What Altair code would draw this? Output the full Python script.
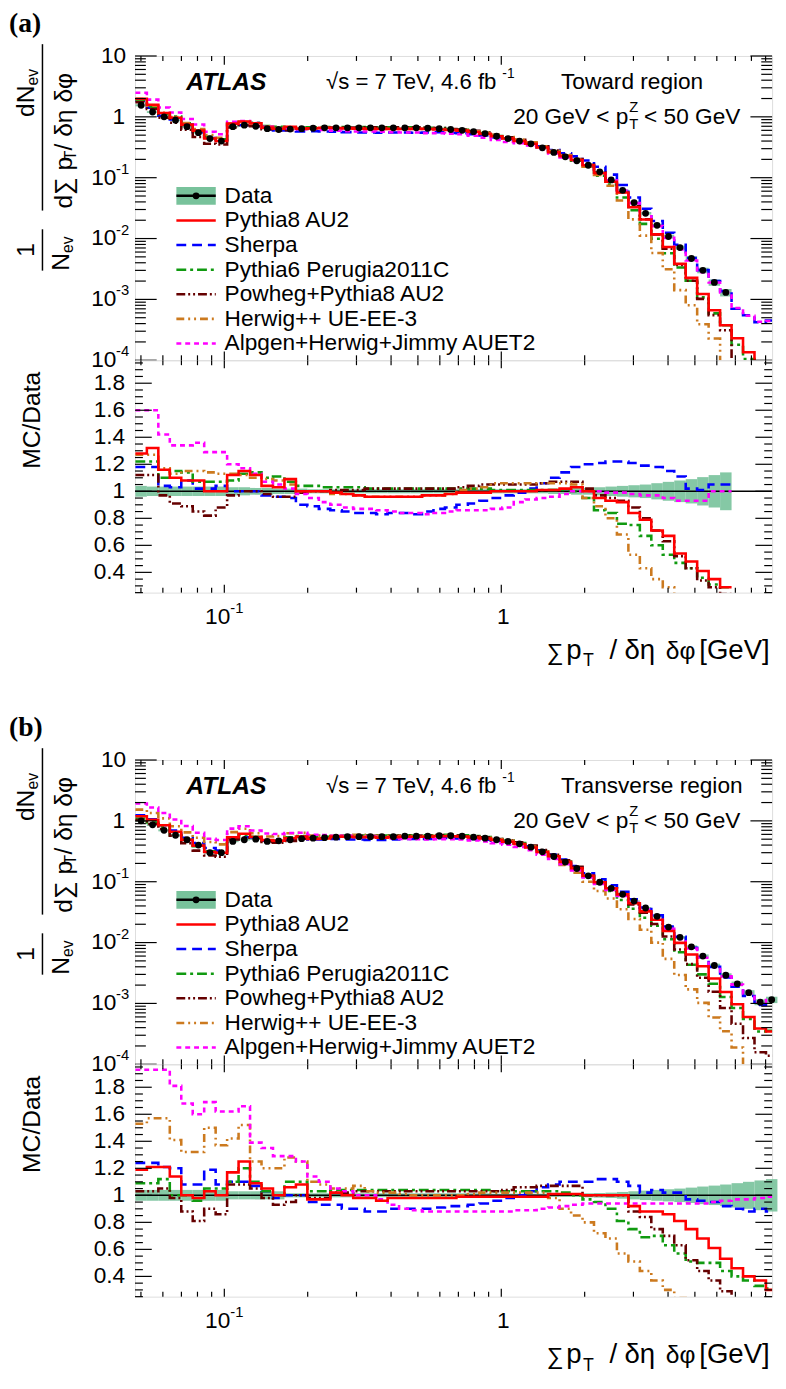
import altair as alt
import pandas as pd

FONT = "Liberation Sans"
W, HM, HR = 647, 309, 236
GAP = 170
XMIN, XMAX = 0.0476, 9.5

# histogram bin edges (56 bins, log-uniform)
EDGES = [0.04775, 0.052525, 0.057778, 0.063555, 0.069911, 0.076902, 0.084592, 0.093051,
         0.102356, 0.112592, 0.123851, 0.136236, 0.149860, 0.164846, 0.181331, 0.199464,
         0.219410, 0.241351, 0.265486, 0.292035, 0.321238, 0.353362, 0.388698, 0.427568,
         0.470325, 0.517358, 0.569093, 0.626003, 0.688603, 0.757463, 0.833209, 0.916530,
         1.008183, 1.109002, 1.219902, 1.341892, 1.476081, 1.623689, 1.786058, 1.964664,
         2.161131, 2.377244, 2.614968, 2.876465, 3.164111, 3.480523, 3.828575, 4.211432,
         4.632576, 5.095833, 5.605416, 6.165958, 6.782554, 7.460809, 8.206890, 9.027579,
         9.930337]

MODELS = ["Pythia8 AU2", "Sherpa", "Pythia6 Perugia2011C", "Powheg+Pythia8 AU2",
          "Herwig++ UE-EE-3", "Alpgen+Herwig+Jimmy AUET2"]
COLORS = ["#ff0000", "#0000ff", "#109a10", "#650000", "#cc7a1f", "#ff00ff"]
DASHES = [None, [10, 6], [10, 4, 3, 4], [9, 3, 2, 3, 2, 3], [8, 4, 2, 4, 2, 4], [5, 4]]

# ---------------- panel (a): toward region ----------------
DATA_A = [1.55, 1.2, 1.0, 0.88, 0.69, 0.55, 0.44, 0.40, 0.69, 0.73, 0.70, 0.64, 0.62, 0.63,
          0.64, 0.65, 0.66, 0.66, 0.66, 0.66, 0.66, 0.66, 0.66, 0.66, 0.66, 0.65, 0.64, 0.62,
          0.60, 0.57, 0.53, 0.48, 0.44, 0.40, 0.36, 0.31, 0.26, 0.22, 0.19, 0.16, 0.125,
          0.092, 0.062, 0.039, 0.026, 0.0165, 0.0108, 0.0071, 0.0047, 0.0030, 0.0019, 0.0013]
ERR_A = [0.04, 0.035, 0.035, 0.035, 0.035, 0.035, 0.035, 0.035, 0.03, 0.03, 0.025, 0.025,
         0.02, 0.02, 0.02, 0.015, 0.015, 0.015, 0.015, 0.015, 0.015, 0.015, 0.015, 0.015,
         0.015, 0.015, 0.015, 0.015, 0.015, 0.015, 0.015, 0.015, 0.015, 0.015, 0.015, 0.015,
         0.02, 0.02, 0.025, 0.025, 0.03, 0.035, 0.04, 0.045, 0.05, 0.06, 0.07, 0.08, 0.09,
         0.105, 0.12, 0.14]
RATIO_A = {
    "Pythia8 AU2": [1.28, 1.32, 1.16, 1.10, 1.08, 1.08, 1.0, 1.0, 1.12, 1.15, 1.12, 1.04, 1.03,
                    1.09, 1.0, 1.0, 1.0, 0.99, 0.98, 0.97, 0.96, 0.96, 0.96, 0.96, 0.96, 0.97,
                    0.97, 0.98, 0.99, 0.99, 0.99, 1.0, 1.0, 1.0, 1.0, 1.01, 1.01, 1.02, 1.03,
                    1.0, 0.95, 0.93, 0.92, 0.84, 0.79, 0.71, 0.67, 0.54, 0.48, 0.41, 0.35, 0.29],
    "Sherpa": [1.18, 1.18, 1.04, 1.03, 1.08, 1.02, 1.02, 1.04, 1.0, 1.0, 1.0, 0.97, 0.96,
               0.95, 0.90, 0.89, 0.87, 0.86, 0.85, 0.84, 0.84, 0.83, 0.84, 0.84, 0.83, 0.85,
               0.87, 0.88, 0.90, 0.91, 0.93, 0.95, 0.97, 0.99, 1.02, 1.06, 1.10, 1.14, 1.18,
               1.20, 1.21, 1.22, 1.22, 1.21, 1.19, 1.18, 1.15, 1.11, 1.02, 1.01, 1.05, 1.05],
    "Pythia6 Perugia2011C": [1.22, 1.22, 1.10, 1.15, 1.14, 1.07, 1.07, 1.07, 1.08, 1.13, 1.14,
                             1.10, 1.11, 1.07, 1.04, 1.04, 1.03, 1.03, 1.03, 1.03, 1.02, 1.02,
                             1.02, 1.02, 1.02, 1.02, 1.02, 1.02, 1.02, 1.02, 1.02, 1.01, 1.01,
                             1.01, 1.01, 1.01, 1.01, 1.01, 1.0, 0.95, 0.86, 0.84, 0.76, 0.75,
                             0.67, 0.60, 0.53, 0.47, 0.43, 0.36, 0.31, 0.29],
    "Powheg+Pythia8 AU2": [1.12, 1.12, 0.97, 0.91, 0.89, 0.85, 0.82, 0.88, 0.97, 1.0, 1.0,
                           0.98, 0.96, 0.96, 0.99, 1.0, 1.0, 1.01, 1.01, 1.01, 1.02, 1.02,
                           1.02, 1.02, 1.02, 1.02, 1.02, 1.02, 1.03, 1.04, 1.05, 1.05, 1.05,
                           1.05, 1.05, 1.06, 1.07, 1.07, 1.07, 1.02, 0.97, 0.95, 0.93, 0.88,
                           0.80, 0.71, 0.63, 0.52, 0.43, 0.34, 0.29, 0.24],
    "Herwig++ UE-EE-3": [1.27, 1.27, 1.17, 1.13, 1.15, 1.15, 1.14, 1.13, 1.13, 1.12, 1.10,
                         1.09, 1.08, 1.05, 1.0, 1.0, 1.0, 0.98, 0.98, 0.97, 0.96, 0.96, 0.96,
                         0.96, 0.96, 0.97, 0.97, 0.98, 1.01, 1.02, 1.03, 1.06, 1.06, 1.06,
                         1.06, 1.06, 1.06, 1.06, 1.05, 0.95, 0.89, 0.80, 0.68, 0.53, 0.43,
                         0.35, 0.29, 0.20, 0.17, 0.13, 0.12, 0.01],
    "Alpgen+Herwig+Jimmy AUET2": [1.60, 1.60, 1.42, 1.34, 1.34, 1.36, 1.29, 1.29, 1.20, 1.17,
                                  1.13, 1.07, 1.05, 1.02, 0.98, 0.95, 0.92, 0.90, 0.88, 0.87,
                                  0.87, 0.86, 0.85, 0.84, 0.84, 0.83, 0.84, 0.85, 0.86, 0.86,
                                  0.86, 0.87, 0.88, 0.92, 0.94, 0.95, 0.96, 0.98, 1.0, 1.0,
                                  1.0, 0.99, 0.99, 0.98, 0.97, 0.97, 0.95, 0.93, 0.93, 0.93,
                                  1.0, 1.0],
}
# MC values in the main pad beyond the last data bin
TAIL_A = {
    "Pythia8 AU2": [2.3e-4, 1.35e-4, 5e-5, 5e-5],
    "Sherpa": [7e-4, 5.5e-4, 4.2e-4, 4.5e-4],
    "Pythia6 Perugia2011C": [1.8e-4, 1.05e-4, 5e-5, 5e-5],
    "Powheg+Pythia8 AU2": [9e-5, 5e-5, 5e-5, 5e-5],
    "Herwig++ UE-EE-3": [5e-5, 5e-5, 5e-5, 5e-5],
    "Alpgen+Herwig+Jimmy AUET2": [7.2e-4, 5.4e-4, 4.3e-4, 4.4e-4],
}

# ---------------- panel (b): transverse region ----------------
DATA_B = [1.0, 0.86, 0.70, 0.58, 0.49, 0.40, 0.30, 0.30, 0.46, 0.49, 0.50, 0.46, 0.47, 0.49,
          0.51, 0.52, 0.53, 0.54, 0.55, 0.55, 0.55, 0.55, 0.55, 0.56, 0.56, 0.56, 0.57, 0.57,
          0.56, 0.54, 0.52, 0.49, 0.46, 0.42, 0.37, 0.31, 0.26, 0.21, 0.165, 0.125, 0.098,
          0.078, 0.062, 0.048, 0.037, 0.027, 0.018, 0.0122, 0.0085, 0.0060, 0.0042, 0.0029,
          0.0021, 0.0015, 0.00105, 0.00115]
ERR_B = [0.04, 0.04, 0.04, 0.04, 0.04, 0.04, 0.04, 0.04, 0.03, 0.03, 0.03, 0.03, 0.03, 0.015,
         0.015, 0.015, 0.015, 0.015, 0.015, 0.015, 0.015, 0.015, 0.015, 0.015, 0.015, 0.015,
         0.015, 0.015, 0.015, 0.015, 0.015, 0.012, 0.012, 0.012, 0.012, 0.012, 0.012, 0.012,
         0.012, 0.015, 0.017, 0.02, 0.025, 0.03, 0.035, 0.04, 0.045, 0.05, 0.057, 0.065, 0.072,
         0.08, 0.09, 0.1, 0.11, 0.12]
RATIO_B = {
    "Pythia8 AU2": [1.19, 1.21, 1.21, 1.14, 1.0, 0.98, 1.03, 1.0, 1.17, 1.25, 1.09, 1.05, 1.0,
                    1.06, 1.08, 0.97, 0.97, 1.02, 1.0, 0.98, 0.98, 0.96, 0.98, 0.98, 0.98, 0.98,
                    0.98, 0.98, 0.99, 0.99, 0.99, 0.99, 0.99, 0.99, 0.99, 0.99, 1.01, 1.01,
                    1.01, 1.0, 1.0, 1.0, 1.0, 0.92, 0.88, 0.88, 0.86, 0.81, 0.75, 0.68, 0.61,
                    0.53, 0.46, 0.40, 0.37, 0.30],
    "Sherpa": [1.24, 1.24, 1.21, 1.20, 1.08, 1.08, 1.19, 1.08, 1.10, 1.10, 1.07, 1.03, 0.98,
               1.0, 1.0, 0.95, 0.93, 0.93, 0.90, 0.90, 0.88, 0.88, 0.90, 0.90, 0.90, 0.90, 0.91,
               0.92, 0.92, 0.93, 0.94, 0.96, 0.98, 1.0, 1.03, 1.06, 1.08, 1.10, 1.10, 1.10,
               1.12, 1.12, 1.10, 1.07, 1.02, 1.04, 1.02, 1.02, 0.97, 0.96, 0.95, 0.92, 0.90,
               0.88, 0.90, 0.88],
    "Pythia6 Perugia2011C": [1.09, 1.09, 1.12, 1.0, 1.0, 0.96, 1.05, 1.05, 1.10, 1.20, 1.10,
                             1.03, 1.0, 1.10, 1.10, 1.03, 1.03, 1.04, 1.04, 1.04, 1.04, 1.04,
                             1.04, 1.04, 1.04, 1.04, 1.04, 1.04, 1.04, 1.04, 1.04, 1.03, 1.03,
                             1.03, 1.03, 1.03, 1.03, 1.02, 1.0, 0.97, 0.95, 0.90, 0.81, 0.75,
                             0.69, 0.70, 0.63, 0.57, 0.51, 0.50, 0.50, 0.44, 0.40, 0.37, 0.33,
                             0.31],
    "Powheg+Pythia8 AU2": [1.03, 1.03, 1.05, 0.98, 0.88, 0.81, 0.90, 0.86, 1.08, 1.08, 1.05,
                           0.98, 0.93, 0.95, 1.0, 0.98, 0.98, 1.02, 1.02, 1.03, 1.03, 1.03,
                           1.03, 1.03, 1.03, 1.03, 1.03, 1.03, 1.03, 1.03, 1.03, 1.03, 1.04,
                           1.06, 1.06, 1.07, 1.07, 1.07, 1.07, 1.0, 1.0, 1.0, 1.0, 0.88, 0.84,
                           0.75, 0.70, 0.63, 0.52, 0.44, 0.37, 0.29, 0.22, 0.18, 0.15, 0.12],
    "Herwig++ UE-EE-3": [1.53, 1.57, 1.57, 1.41, 1.32, 1.32, 1.50, 1.37, 1.42, 1.52, 1.25,
                         1.20, 1.20, 1.28, 1.25, 1.10, 1.08, 1.05, 1.05, 1.07, 1.03, 1.02,
                         1.02, 1.01, 1.0, 1.0, 1.0, 1.0, 1.0, 1.01, 1.02, 1.02, 1.02, 1.02,
                         1.02, 1.02, 0.98, 0.90, 0.85, 0.80, 0.72, 0.68, 0.57, 0.51, 0.44,
                         0.37, 0.30, 0.24, 0.20, 0.17, 0.14, 0.12, 0.09, 0.05, 0.04, 0.03],
    "Alpgen+Herwig+Jimmy AUET2": [1.93, 1.93, 1.93, 1.81, 1.68, 1.60, 1.69, 1.62, 1.62, 1.66,
                                  1.39, 1.35, 1.29, 1.29, 1.25, 1.14, 1.10, 1.05, 1.03, 1.0,
                                  1.0, 0.97, 0.93, 0.90, 0.89, 0.88, 0.88, 0.88, 0.88, 0.88,
                                  0.88, 0.88, 0.88, 0.89, 0.89, 0.90, 0.91, 0.92, 0.93, 0.94,
                                  0.94, 0.94, 0.94, 0.94, 0.94, 0.94, 0.94, 0.94, 0.94, 0.94,
                                  0.95, 0.96, 0.97, 0.97, 0.98, 0.99],
}
TAIL_B = {m: [] for m in MODELS}

# tick values
X_MAJOR = [0.1, 1.0]
X_MINOR = [0.05, 0.06, 0.07, 0.08, 0.09, 0.2, 0.3, 0.4, 0.5, 0.6, 0.7, 0.8, 0.9,
           2, 3, 4, 5, 6, 7, 8, 9]
YM_MAJOR = [1e-4, 1e-3, 1e-2, 1e-1, 1, 10]
YM_MINOR = [k * 10.0 ** n for n in range(-4, 1) for k in range(2, 10)]
YR_MAJOR = [0.4, 0.6, 0.8, 1.0, 1.2, 1.4, 1.6, 1.8]
YR_MINOR = [0.25, 0.3, 0.35, 0.45, 0.5, 0.55, 0.65, 0.7, 0.75, 0.85, 0.9, 0.95, 1.05, 1.1,
            1.15, 1.25, 1.3, 1.35, 1.45, 1.5, 1.55, 1.65, 1.7, 1.75, 1.85, 1.9, 1.95]
YM_LABELS = pd.DataFrame({"v": [10, 1, 0.1, 0.01, 0.001, 0.0001],
                          "base": ["10", "1", "10", "10", "10", "10"],
                          "exp": ["", "", "-1", "-2", "-3", "-4"],
                          "bx": [-9, -10, -19, -19, -19, -19]})
YR_LABELS = pd.DataFrame({"v": YR_MAJOR, "t": ["0.4", "0.6", "0.8", "1", "1.2", "1.4", "1.6", "1.8"]})

GREEN = "#78c29b"

XS = alt.Scale(type="log", domain=[XMIN, XMAX], nice=False)
YSM = alt.Scale(type="log", domain=[1e-4, 10], nice=False)
YSR = alt.Scale(domain=[0.25, 1.97], nice=False, zero=False)


def txt(x, y, s, size=23, align="left", angle=0, weight="normal", style="normal",
        font=FONT, baseline="middle", color="black"):
    return alt.Chart(pd.DataFrame({"t": [s]})).mark_text(
        align=align, baseline=baseline, fontSize=size, angle=angle, fontWeight=weight,
        fontStyle=style, font=font, color=color
    ).encode(x=alt.value(x), y=alt.value(y), text="t:N")


def vrule(x, y1, y2, w=1.5):
    return alt.Chart(pd.DataFrame({"a": [0]})).mark_rule(color="black", strokeWidth=w).encode(
        x=alt.value(x), y=alt.value(y1), y2=alt.value(y2))


def steps(vals):
    rows = []
    for i, v in enumerate(vals):
        rows.append({"x": EDGES[i], "y": v, "o": 2 * i})
        rows.append({"x": EDGES[i + 1], "y": v, "o": 2 * i + 1})
    return pd.DataFrame(rows)


def line_layer(vals, k, ys):
    kw = dict(color=COLORS[k], strokeWidth=2.6, clip=True)
    if DASHES[k]:
        kw["strokeDash"] = DASHES[k]
    return alt.Chart(steps(vals)).mark_line(**kw).encode(
        x=alt.X("x:Q", scale=XS, axis=None),
        y=alt.Y("y:Q", scale=ys, axis=None),
        order="o:Q")


def tick_layers(h, ys, ymaj, ymin, lmaj, lmin, xmaj=9, xmin=5):
    out = []
    for vals, L in ((ymaj, lmaj), (ymin, lmin)):
        d = pd.DataFrame({"v": vals})
        base = alt.Chart(d).mark_rule(color="black", strokeWidth=1.2)
        out.append(base.encode(y=alt.Y("v:Q", scale=ys, axis=None), x=alt.value(0), x2=alt.value(L)))
        out.append(base.encode(y=alt.Y("v:Q", scale=ys, axis=None), x=alt.value(W - L), x2=alt.value(W)))
    for vals, L in ((X_MAJOR, xmaj), (X_MINOR, xmin)):
        d = pd.DataFrame({"v": vals})
        base = alt.Chart(d).mark_rule(color="black", strokeWidth=1.2)
        out.append(base.encode(x=alt.X("v:Q", scale=XS, axis=None), y=alt.value(0), y2=alt.value(L)))
        out.append(base.encode(x=alt.X("v:Q", scale=XS, axis=None), y=alt.value(h - L), y2=alt.value(h)))
    return out


def bin_frame(vals, errs):
    n = len(vals)
    lo = EDGES[:n]
    hi = EDGES[1:n + 1]
    ctr = [(a * b) ** 0.5 for a, b in zip(lo, hi)]
    return pd.DataFrame({"lo": lo, "hi": hi, "c": ctr, "v": vals, "e": errs,
                         "vlo": [v * (1 - e) for v, e in zip(vals, errs)],
                         "vhi": [v * (1 + e) for v, e in zip(vals, errs)],
                         "rlo": [1 - e for e in errs], "rhi": [1 + e for e in errs]})


ORDER = [1, 2, 3, 4, 5, 0]


def main_pad(tag, region, region_right, data, errs, ratios, tails):
    df = bin_frame(data, errs)
    layers = []
    layers.append(alt.Chart(df).mark_rect(color=GREEN, opacity=0.9).encode(
        x=alt.X("lo:Q", scale=XS, axis=None), x2="hi:Q",
        y=alt.Y("vlo:Q", scale=YSM, axis=None), y2="vhi:Q"))
    for k in ORDER:
        m = MODELS[k]
        vals = [d * r for d, r in zip(data, ratios[m])] + tails[m]
        vals = [max(v, 5e-5) for v in vals]
        layers.append(line_layer(vals, k, YSM))
    layers.append(alt.Chart(df).mark_circle(color="black", size=48, opacity=1).encode(
        x=alt.X("c:Q", scale=XS, axis=None), y=alt.Y("v:Q", scale=YSM, axis=None)))
    layers += tick_layers(HM, YSM, YM_MAJOR, YM_MINOR, 22, 11)
    layers.append(alt.Chart(YM_LABELS).mark_text(align="right", baseline="middle", fontSize=23, font=FONT).encode(
        y=alt.Y("v:Q", scale=YSM, axis=None), x=alt.X("bx:Q", scale=None), text="base:N"))
    layers.append(alt.Chart(YM_LABELS).mark_text(align="right", baseline="middle", fontSize=15, font=FONT, dy=-9).encode(
        y=alt.Y("v:Q", scale=YSM, axis=None), x=alt.value(-6), text="exp:N"))
    # annotations
    layers.append(txt(-128, -32, tag, size=28, weight="bold", font="Liberation Serif"))
    layers.append(txt(52, 27, "ATLAS", size=25, weight="bold", style="italic"))
    layers.append(txt(194, 27, "√s = 7 TeV, 4.6 fb", size=22.5))
    layers.append(txt(373, 18, "-1", size=14))
    layers.append(txt(region_right, 27, region, size=23, align="right"))
    layers.append(txt(384, 62, "20 GeV < p", size=23))
    layers.append(txt(502, 69, "T", size=15))
    layers.append(txt(502, 52, "Z", size=15))
    layers.append(txt(517, 62, "< 50 GeV", size=23))
    # legend
    y0 = 142
    layers.append(alt.Chart(pd.DataFrame({"a": [0]})).mark_rect(color=GREEN).encode(
        x=alt.value(42), x2=alt.value(82), y=alt.value(y0 - 9), y2=alt.value(y0 + 9)))
    layers.append(alt.Chart(pd.DataFrame({"a": [0]})).mark_rule(color="black", strokeWidth=2.5).encode(
        x=alt.value(42), x2=alt.value(82), y=alt.value(y0)))
    layers.append(alt.Chart(pd.DataFrame({"a": [0]})).mark_circle(color="black", size=48, opacity=1).encode(
        x=alt.value(62), y=alt.value(y0)))
    layers.append(txt(91, y0, "Data"))
    for k, m in enumerate(MODELS):
        yy = y0 + 25 * (k + 1)
        kw = dict(color=COLORS[k], strokeWidth=2.6)
        if DASHES[k]:
            kw["strokeDash"] = DASHES[k]
        layers.append(alt.Chart(pd.DataFrame({"a": [0]})).mark_rule(**kw).encode(
            x=alt.value(42), x2=alt.value(82), y=alt.value(yy)))
        layers.append(txt(91, yy, m))
    # y title (rotated fraction)
    layers.append(txt(-111, 62, "dN", size=25, angle=270))
    layers.append(txt(-104, 30, "ev", size=16, angle=270))
    layers.append(vrule(-94, -12, 157))
    layers.append(txt(-72, 155, "d∑ p", size=25, angle=270))
    layers.append(txt(-65, 106, "T", size=16, angle=270))
    layers.append(txt(-72, 96, " / δη δφ", size=25, angle=270))
    layers.append(txt(-111, 197, "1", size=25, angle=270, align="center"))
    layers.append(vrule(-94, 176, 218))
    layers.append(txt(-75, 218, "N", size=25, angle=270))
    layers.append(txt(-68, 200, "ev", size=16, angle=270))
    return alt.layer(*layers).properties(width=W, height=HM)


def ratio_pad(data, errs, ratios):
    df = bin_frame(data, errs)
    n = len(data)
    rl = []
    rl.append(alt.Chart(df).mark_rect(color=GREEN, opacity=0.9).encode(
        x=alt.X("lo:Q", scale=XS, axis=None), x2="hi:Q",
        y=alt.Y("rlo:Q", scale=YSR, axis=None), y2="rhi:Q"))
    rl.append(alt.Chart(pd.DataFrame({"v": [1.0]})).mark_rule(color="black", strokeWidth=1.5).encode(
        y=alt.Y("v:Q", scale=YSR, axis=None), x=alt.value(0), x2=alt.value(W)))
    for k in ORDER:
        rl.append(line_layer(ratios[MODELS[k]][:n], k, YSR))
    rl += tick_layers(HR, YSR, YR_MAJOR, YR_MINOR, 17, 8, 8, 5)
    rl.append(alt.Chart(YR_LABELS).mark_text(align="right", baseline="middle", fontSize=23, font=FONT).encode(
        y=alt.Y("v:Q", scale=YSR, axis=None), x=alt.value(-10), text="t:N"))
    rl.append(txt(-105, 61, "MC/Data", size=25, angle=270, align="center"))
    xl = pd.DataFrame({"v": [0.1], "b": ["10"], "e": ["-1"]})
    rl.append(alt.Chart(xl).mark_text(align="right", baseline="middle", fontSize=23, font=FONT, dx=6).encode(
        x=alt.X("v:Q", scale=XS, axis=None), y=alt.value(HR + 25), text="b:N"))
    rl.append(alt.Chart(xl).mark_text(align="left", baseline="middle", fontSize=15, font=FONT, dx=6, dy=-9).encode(
        x=alt.X("v:Q", scale=XS, axis=None), y=alt.value(HR + 25), text="e:N"))
    rl.append(alt.Chart(pd.DataFrame({"v": [1.0], "t": ["1"]})).mark_text(
        align="center", baseline="middle", fontSize=23, font=FONT, dx=2).encode(
        x=alt.X("v:Q", scale=XS, axis=None), y=alt.value(HR + 25), text="t:N"))
    # x title pieces
    ty = HR + 59
    rl.append(txt(418, ty + 2, "∑", size=24))
    rl.append(txt(438, ty, "p", size=28))
    rl.append(txt(455, ty + 11, "T", size=18))
    rl.append(txt(482, ty, "/", size=28))
    rl.append(txt(497, ty, "δη", size=28))
    rl.append(txt(539, ty, "δφ", size=25))
    rl.append(txt(573, ty, "[GeV]", size=28))
    return alt.layer(*rl).properties(width=W, height=HR)


spacer = alt.Chart(pd.DataFrame({"a": [0]})).mark_point(opacity=0).encode(
    x=alt.value(0), y=alt.value(0)
).properties(width=W, height=GAP, view=alt.ViewBackground(stroke="transparent"))

chart = alt.vconcat(
    main_pad("(a)", "Toward region", 577, DATA_A, ERR_A, RATIO_A, TAIL_A),
    ratio_pad(DATA_A, ERR_A, RATIO_A),
    spacer,
    main_pad("(b)", "Transverse region", 617, DATA_B, ERR_B, RATIO_B, TAIL_B),
    ratio_pad(DATA_B, ERR_B, RATIO_B),
    spacing=0, bounds="flush"
).resolve_scale(
    x="independent", y="independent"
).properties(padding={"left": 0, "top": -9, "right": 0, "bottom": 0}).configure_view(
    stroke="black", strokeWidth=1.5
).configure(background="white")

chart.save("out.html", embed_options={"renderer": "svg", "actions": False})
